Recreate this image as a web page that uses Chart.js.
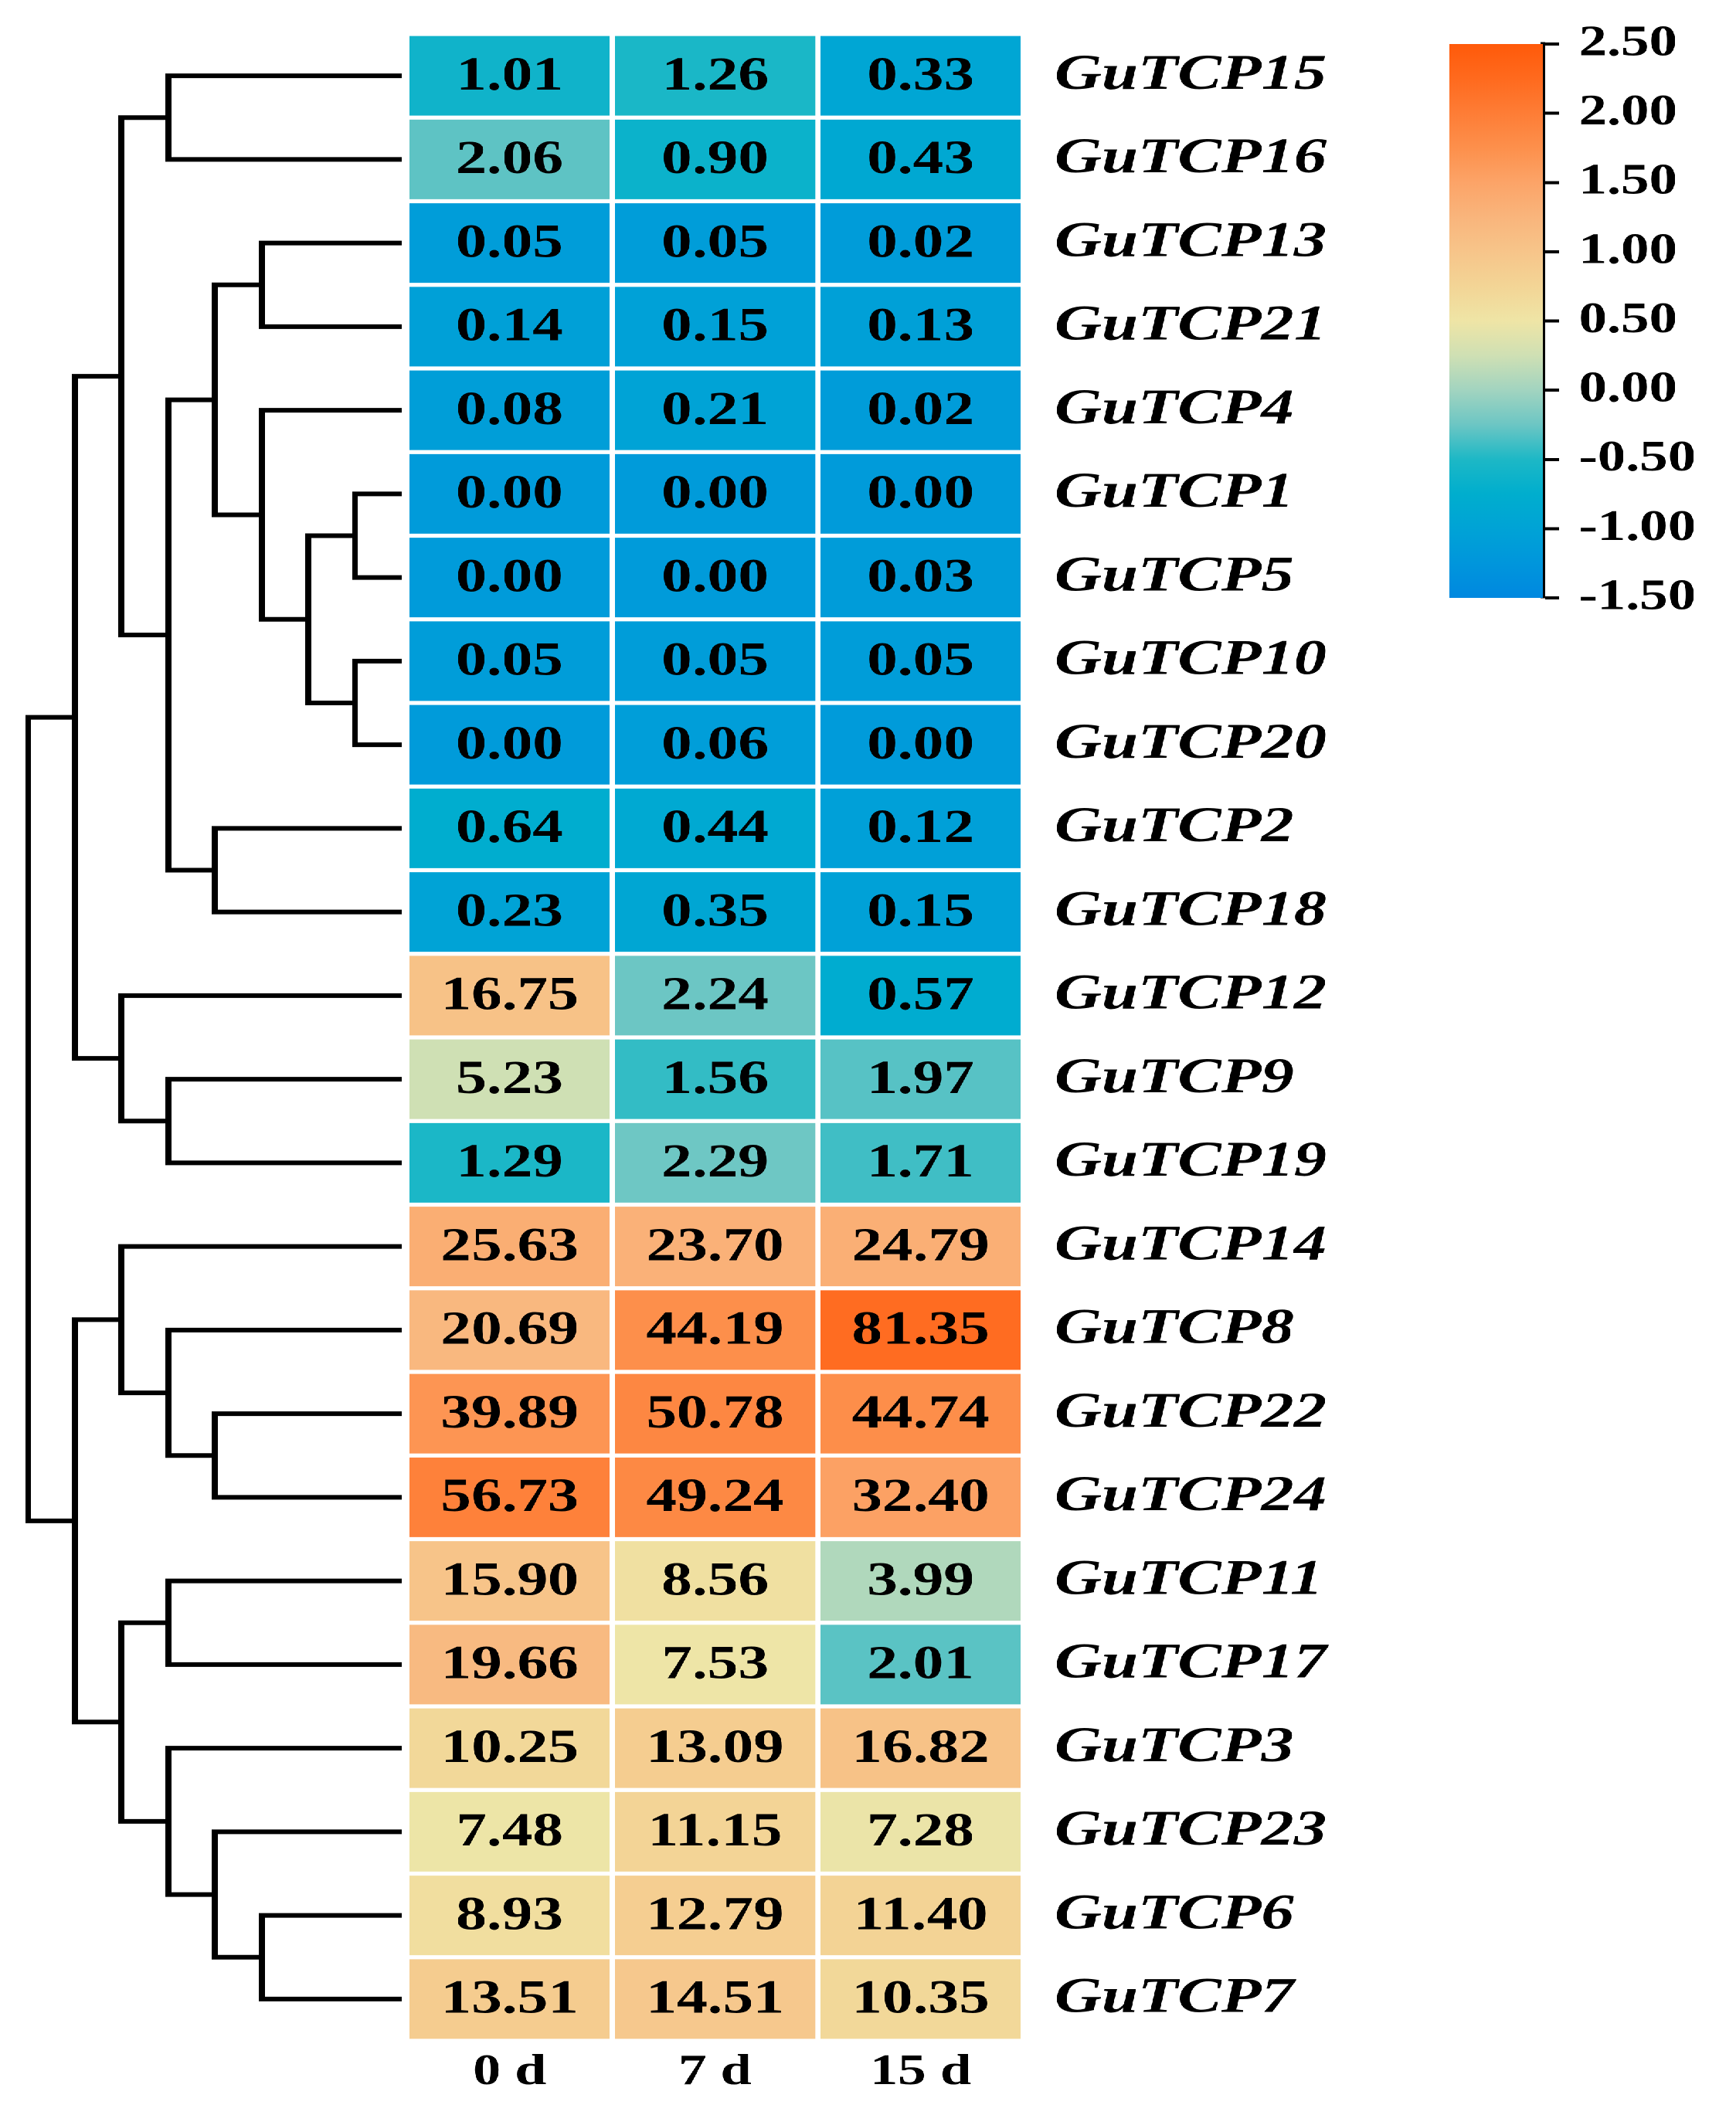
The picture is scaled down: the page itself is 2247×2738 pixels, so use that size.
<!DOCTYPE html>
<html>
<head>
<meta charset="utf-8">
<script src="https://cdn.jsdelivr.net/npm/chart.js@4.4.1/dist/chart.umd.min.js"></script>
<style>
  html, body { margin: 0; padding: 0; background: #ffffff; overflow: hidden; }
  #wrap { position: relative; width: 1728px; height: 2738px; transform: scaleX(1.3); transform-origin: 0 0; }
  canvas { position: absolute; top: 0; }
</style>
</head>
<body>
<div id="wrap">
  <canvas id="dendro" width="410" height="2738" style="left:0px"></canvas>
  <canvas id="heat" width="980" height="2738" style="left:400px"></canvas>
  <canvas id="bar" width="298" height="830" style="left:1430px"></canvas>
</div>
<script>
// rows, top to bottom
const genes = ["GuTCP15", "GuTCP16", "GuTCP13", "GuTCP21", "GuTCP4", "GuTCP1", "GuTCP5", "GuTCP10",
  "GuTCP20", "GuTCP2", "GuTCP18", "GuTCP12", "GuTCP9", "GuTCP19", "GuTCP14", "GuTCP8",
  "GuTCP22", "GuTCP24", "GuTCP11", "GuTCP17", "GuTCP3", "GuTCP23", "GuTCP6", "GuTCP7"];
const days = ["0 d", "7 d", "15 d"];

const day0 = [1.01, 2.06, 0.05, 0.14, 0.08, 0.00, 0.00, 0.05, 0.00, 0.64, 0.23, 16.75,
  5.23, 1.29, 25.63, 20.69, 39.89, 56.73, 15.90, 19.66, 10.25, 7.48, 8.93, 13.51];
const day7 = [1.26, 0.90, 0.05, 0.15, 0.21, 0.00, 0.00, 0.05, 0.06, 0.44, 0.35, 2.24,
  1.56, 2.29, 23.70, 44.19, 50.78, 49.24, 8.56, 7.53, 13.09, 11.15, 12.79, 14.51];
const day15 = [0.33, 0.43, 0.02, 0.13, 0.02, 0.00, 0.03, 0.05, 0.00, 0.12, 0.15, 0.57,
  1.97, 1.71, 24.79, 81.35, 44.74, 32.40, 3.99, 2.01, 16.82, 7.28, 11.40, 10.35];

// dendrogram: leaves are row indexes 0..23, merge k makes node 24+k
const mergeLeft   = [0, 2, 5, 7, 26, 4, 25, 9, 30, 24, 12, 11, 33, 16, 15, 14, 18, 22, 21, 20, 40, 39, 36];
const mergeRight  = [1, 3, 6, 8, 27, 28, 29, 10, 31, 32, 13, 34, 35, 17, 37, 38, 19, 23, 41, 42, 43, 44, 45];
const mergeHeight = [5, 3, 1, 1, 2, 3, 4, 4, 5, 6, 5, 6, 7, 4, 5, 6, 5, 3, 4, 5, 6, 7, 8];

// colour key
const cbMin = -1.5, cbMax = 2.5;
const cbStops  = [-1.5, -1.25, -1.0, -0.75, -0.5, -0.25, 0.0, 0.25, 0.5, 0.75, 1.0, 1.25, 1.5, 1.75, 2.0, 2.25, 2.5];
const cbColors = ["#0088e0", "#0096dc", "#00a3d6", "#00aece", "#1db8c6", "#6cc6c4", "#a2d4c0", "#cfe0b4",
  "#efe5a6", "#f3d596", "#f7c58a", "#f9b57c", "#fca468", "#fd904c", "#fe7d36", "#ff6a1e", "#ff5a0a"];

Chart.defaults.font.family = "'Liberation Serif', 'Times New Roman', serif";
Chart.defaults.color = "#000";

const columns = [day0, day7, day15];

function hexRgb(h) {
  return [parseInt(h.slice(1, 3), 16), parseInt(h.slice(3, 5), 16), parseInt(h.slice(5, 7), 16)];
}

// expression -> colour key value (log2 scale)
function colorFor(val) {
  let v = 0.53 * Math.log2(val + 1) - 1.15;
  v = Math.max(cbMin, Math.min(cbMax, v));
  for (let i = 0; i < cbStops.length - 1; i++) {
    if (v <= cbStops[i + 1]) {
      const t = (v - cbStops[i]) / (cbStops[i + 1] - cbStops[i]);
      const a = hexRgb(cbColors[i]), b = hexRgb(cbColors[i + 1]);
      const c = a.map((x, k) => Math.round(x + (b[k] - x) * t));
      return `rgb(${c[0]}, ${c[1]}, ${c[2]})`;
    }
  }
  return cbColors[cbColors.length - 1];
}

// ---- dendrogram ----
const nodeY = genes.map((g, i) => i + 0.5);
const nodeH = genes.map(() => 0);
const dendroSets = [];
mergeLeft.forEach((l, k) => {
  const r = mergeRight[k], h = mergeHeight[k];
  dendroSets.push({
    data: [
      { x: nodeH[l], y: nodeY[l] },
      { x: h, y: nodeY[l] },
      { x: h, y: nodeY[r] },
      { x: nodeH[r], y: nodeY[r] }
    ],
    showLine: true,
    borderColor: "#000",
    borderWidth: 6,
    borderJoinStyle: "miter",
    borderCapStyle: "butt",
    pointRadius: 0,
    tension: 0,
    clip: false
  });
  nodeY.push((nodeY[l] + nodeY[r]) / 2);
  nodeH.push(h);
});

new Chart(document.getElementById("dendro"), {
  type: "scatter",
  data: { datasets: dendroSets },
  options: {
    responsive: false,
    devicePixelRatio: 2,
    animation: false,
    events: [],
    layout: { autoPadding: false, padding: { left: 28, right: 10, top: 44, bottom: 96 } },
    plugins: { legend: { display: false }, tooltip: { enabled: false } },
    scales: {
      x: { type: "linear", min: 0, max: 8, reverse: true, display: false },
      y: { type: "linear", min: 0, max: 24, reverse: true, display: false }
    }
  }
});

// ---- heatmap ----
const heatSets = genes.map((g, r) => ({
  label: g,
  data: days.map(() => [r, r + 1]),
  backgroundColor: columns.map(col => colorFor(col[r])),
  borderColor: "#ffffff",
  borderWidth: 3,
  borderSkipped: false,
  grouped: false,
  barPercentage: 1,
  categoryPercentage: 1,
  yAxisID: "y"
}));

const cellText = {
  id: "cellText",
  afterDatasetsDraw(chart) {
    const ctx = chart.ctx;
    ctx.save();
    ctx.font = "bold 61px 'Liberation Serif', serif";
    ctx.fillStyle = "#000";
    ctx.textAlign = "center";
    ctx.textBaseline = "middle";
    chart.data.datasets.forEach((ds, r) => {
      chart.getDatasetMeta(r).data.forEach((bar, j) => {
        const p = bar.getProps(["x", "y", "base"], true);
        ctx.fillText(columns[j][r].toFixed(2), p.x, (p.y + p.base) / 2 + 2);
      });
    });
    ctx.restore();
  }
};

new Chart(document.getElementById("heat"), {
  type: "bar",
  data: { labels: days, datasets: heatSets },
  options: {
    responsive: false,
    devicePixelRatio: 2,
    animation: false,
    events: [],
    layout: { autoPadding: false, padding: { left: 5, top: 44, right: 0, bottom: 0 } },
    plugins: { legend: { display: false }, tooltip: { enabled: false } },
    scales: {
      x: {
        grid: { display: false, drawTicks: false },
        border: { display: false },
        ticks: { font: { size: 56, weight: "bold" }, color: "#000", padding: 8 },
        afterFit(s) { s.height = 96; s.paddingLeft = 0; s.paddingRight = 0; }
      },
      y: { type: "linear", min: 0, max: 24, reverse: true, display: false },
      y2: {
        type: "category",
        labels: genes,
        position: "right",
        offset: true,
        grid: { display: false, drawTicks: false },
        border: { display: false },
        ticks: { font: { size: 65, weight: "bold", style: "italic" }, color: "#000", padding: 31, autoSkip: false },
        afterFit(s) { s.width = 361; s.paddingTop = 0; s.paddingBottom = 0; }
      }
    }
  },
  plugins: [cellText]
});

// ---- colour key ----
new Chart(document.getElementById("bar"), {
  type: "bar",
  data: {
    labels: [""],
    datasets: [{
      data: [[cbMin, cbMax]],
      backgroundColor(c) {
        const chart = c.chart;
        if (!chart.chartArea) return null;
        const y = chart.scales.y;
        const g = chart.ctx.createLinearGradient(0, y.getPixelForValue(cbMin), 0, y.getPixelForValue(cbMax));
        cbStops.forEach((v, i) => g.addColorStop((v - cbMin) / (cbMax - cbMin), cbColors[i]));
        return g;
      },
      borderWidth: 0,
      barPercentage: 1,
      categoryPercentage: 1
    }]
  },
  options: {
    responsive: false,
    devicePixelRatio: 2,
    animation: false,
    events: [],
    layout: { autoPadding: false, padding: { left: 13, top: 57, right: 0, bottom: 56 } },
    plugins: { legend: { display: false }, tooltip: { enabled: false } },
    scales: {
      x: { display: false },
      y: {
        position: "right",
        min: cbMin,
        max: cbMax,
        ticks: {
          stepSize: 0.5,
          callback: v => v.toFixed(2),
          font: { size: 56, weight: "bold" },
          color: "#000",
          padding: 20
        },
        grid: { drawOnChartArea: false, drawTicks: true, tickLength: 16, tickWidth: 4, tickColor: "#000" },
        border: { display: true, color: "#000", width: 5 },
        afterFit(s) { s.width = 192; s.paddingTop = 0; s.paddingBottom = 0; }
      }
    }
  }
});
</script>
</body>
</html>
